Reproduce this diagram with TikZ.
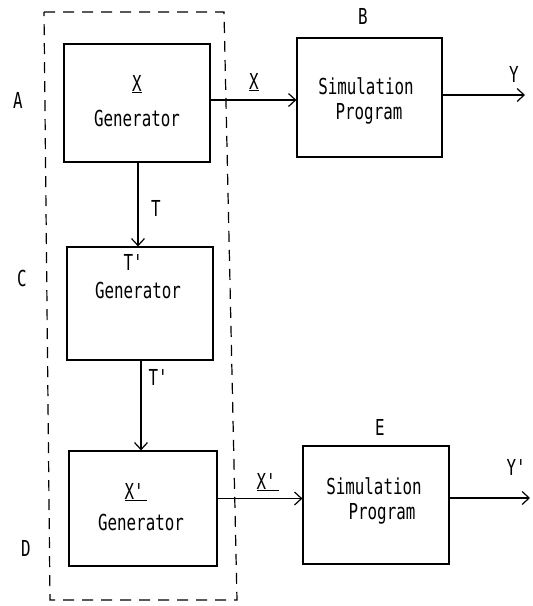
\documentclass[tikz,border=0pt]{standalone}
\usepackage{fontspec}
\newfontfamily\tw[FakeStretch=0.72]{DejaVu Sans Mono}
\usetikzlibrary{arrows.meta}
\begin{document}
\begin{tikzpicture}[x=1pt,y=-1pt,
  blk/.style={draw,line width=1.2pt,minimum width=#1,inner sep=0pt},
  txt/.style={font=\tw\fontsize{22}{24}\selectfont,inner sep=0pt,anchor=center},
  conn/.style={line width=1.2pt,-{Straight Barb[length=7pt,width=13pt,line width=1.2pt]}},
  frame/.style={line width=1.2pt,dash pattern=on 11pt off 8pt}]
\useasboundingbox (0,0) rectangle (533,606);
% dashed frame
\draw[frame] (44,12) -- (224,12) -- (237,600) -- (50,600) -- cycle;
% boxes
\node[blk=146pt,minimum height=118pt] (A) at (137,103) {};
\node[blk=145pt,minimum height=119pt] (B) at (369.5,97.5) {};
\node[blk=146pt,minimum height=113pt] (C) at (140,303.5) {};
\node[blk=148pt,minimum height=115pt] (D) at (143,508.5) {};
\node[blk=146pt,minimum height=118pt] (E) at (376,505) {};
% box texts
\node[txt] (a1) at (137,84) {\underline{X}};
\node[txt] (a2) at (137,118) {Generator};
\node[txt] (b1) at (366,86) {Simulation};
\node[txt] (b2) at (369,114) {Program};
\node[txt] (c1) at (135,262) {T\textquotesingle};
\node[txt] (c2) at (138,290) {Generator};
\node[txt] (d1) at (136,492) {\underline{X\textquotesingle}};
\node[txt] (d2) at (141,522) {Generator};
\node[txt] (e1) at (374,486) {Simulation};
\node[txt] (e2) at (382,514) {Program};
% side labels
\node[txt] (lA) at (18,100) {A};
\node[txt] (lB) at (363,16) {B};
\node[txt] (lC) at (22,278) {C};
\node[txt] (lD) at (26,548) {D};
\node[txt] (lE) at (380,427) {E};
% connectors
\coordinate (Yend) at (525,95);
\coordinate (Ypend) at (530,498);
\draw[conn] ([yshift=3pt]A.east) -- ([yshift=3pt]A.east -| B.west);
\draw[conn] ([yshift=2.5pt]B.east) -- (Yend);
\draw[conn] ([xshift=1pt]A.south) -- ([xshift=1pt]A.south |- C.north);
\draw[conn] ([xshift=1pt]C.south) -- ([xshift=1pt]C.south |- D.north);
\draw[conn] ([yshift=10pt]D.east) -- ([yshift=10pt]D.east -| E.west);
\draw[conn] ([yshift=7pt]E.east) -- (Ypend);
% connector labels
\node[txt] (lX) at (254,82) {\underline{X}};
\node[txt] (lY) at (514,74) {Y};
\node[txt] (lT) at (156,208) {T};
\node[txt] (lT2) at (160,377) {T\textquotesingle};
\node[txt] (lX2) at (268,482) {\underline{X\textquotesingle}};
\node[txt] (lY2) at (518,467) {Y\textquotesingle};
\end{tikzpicture}
\end{document}
